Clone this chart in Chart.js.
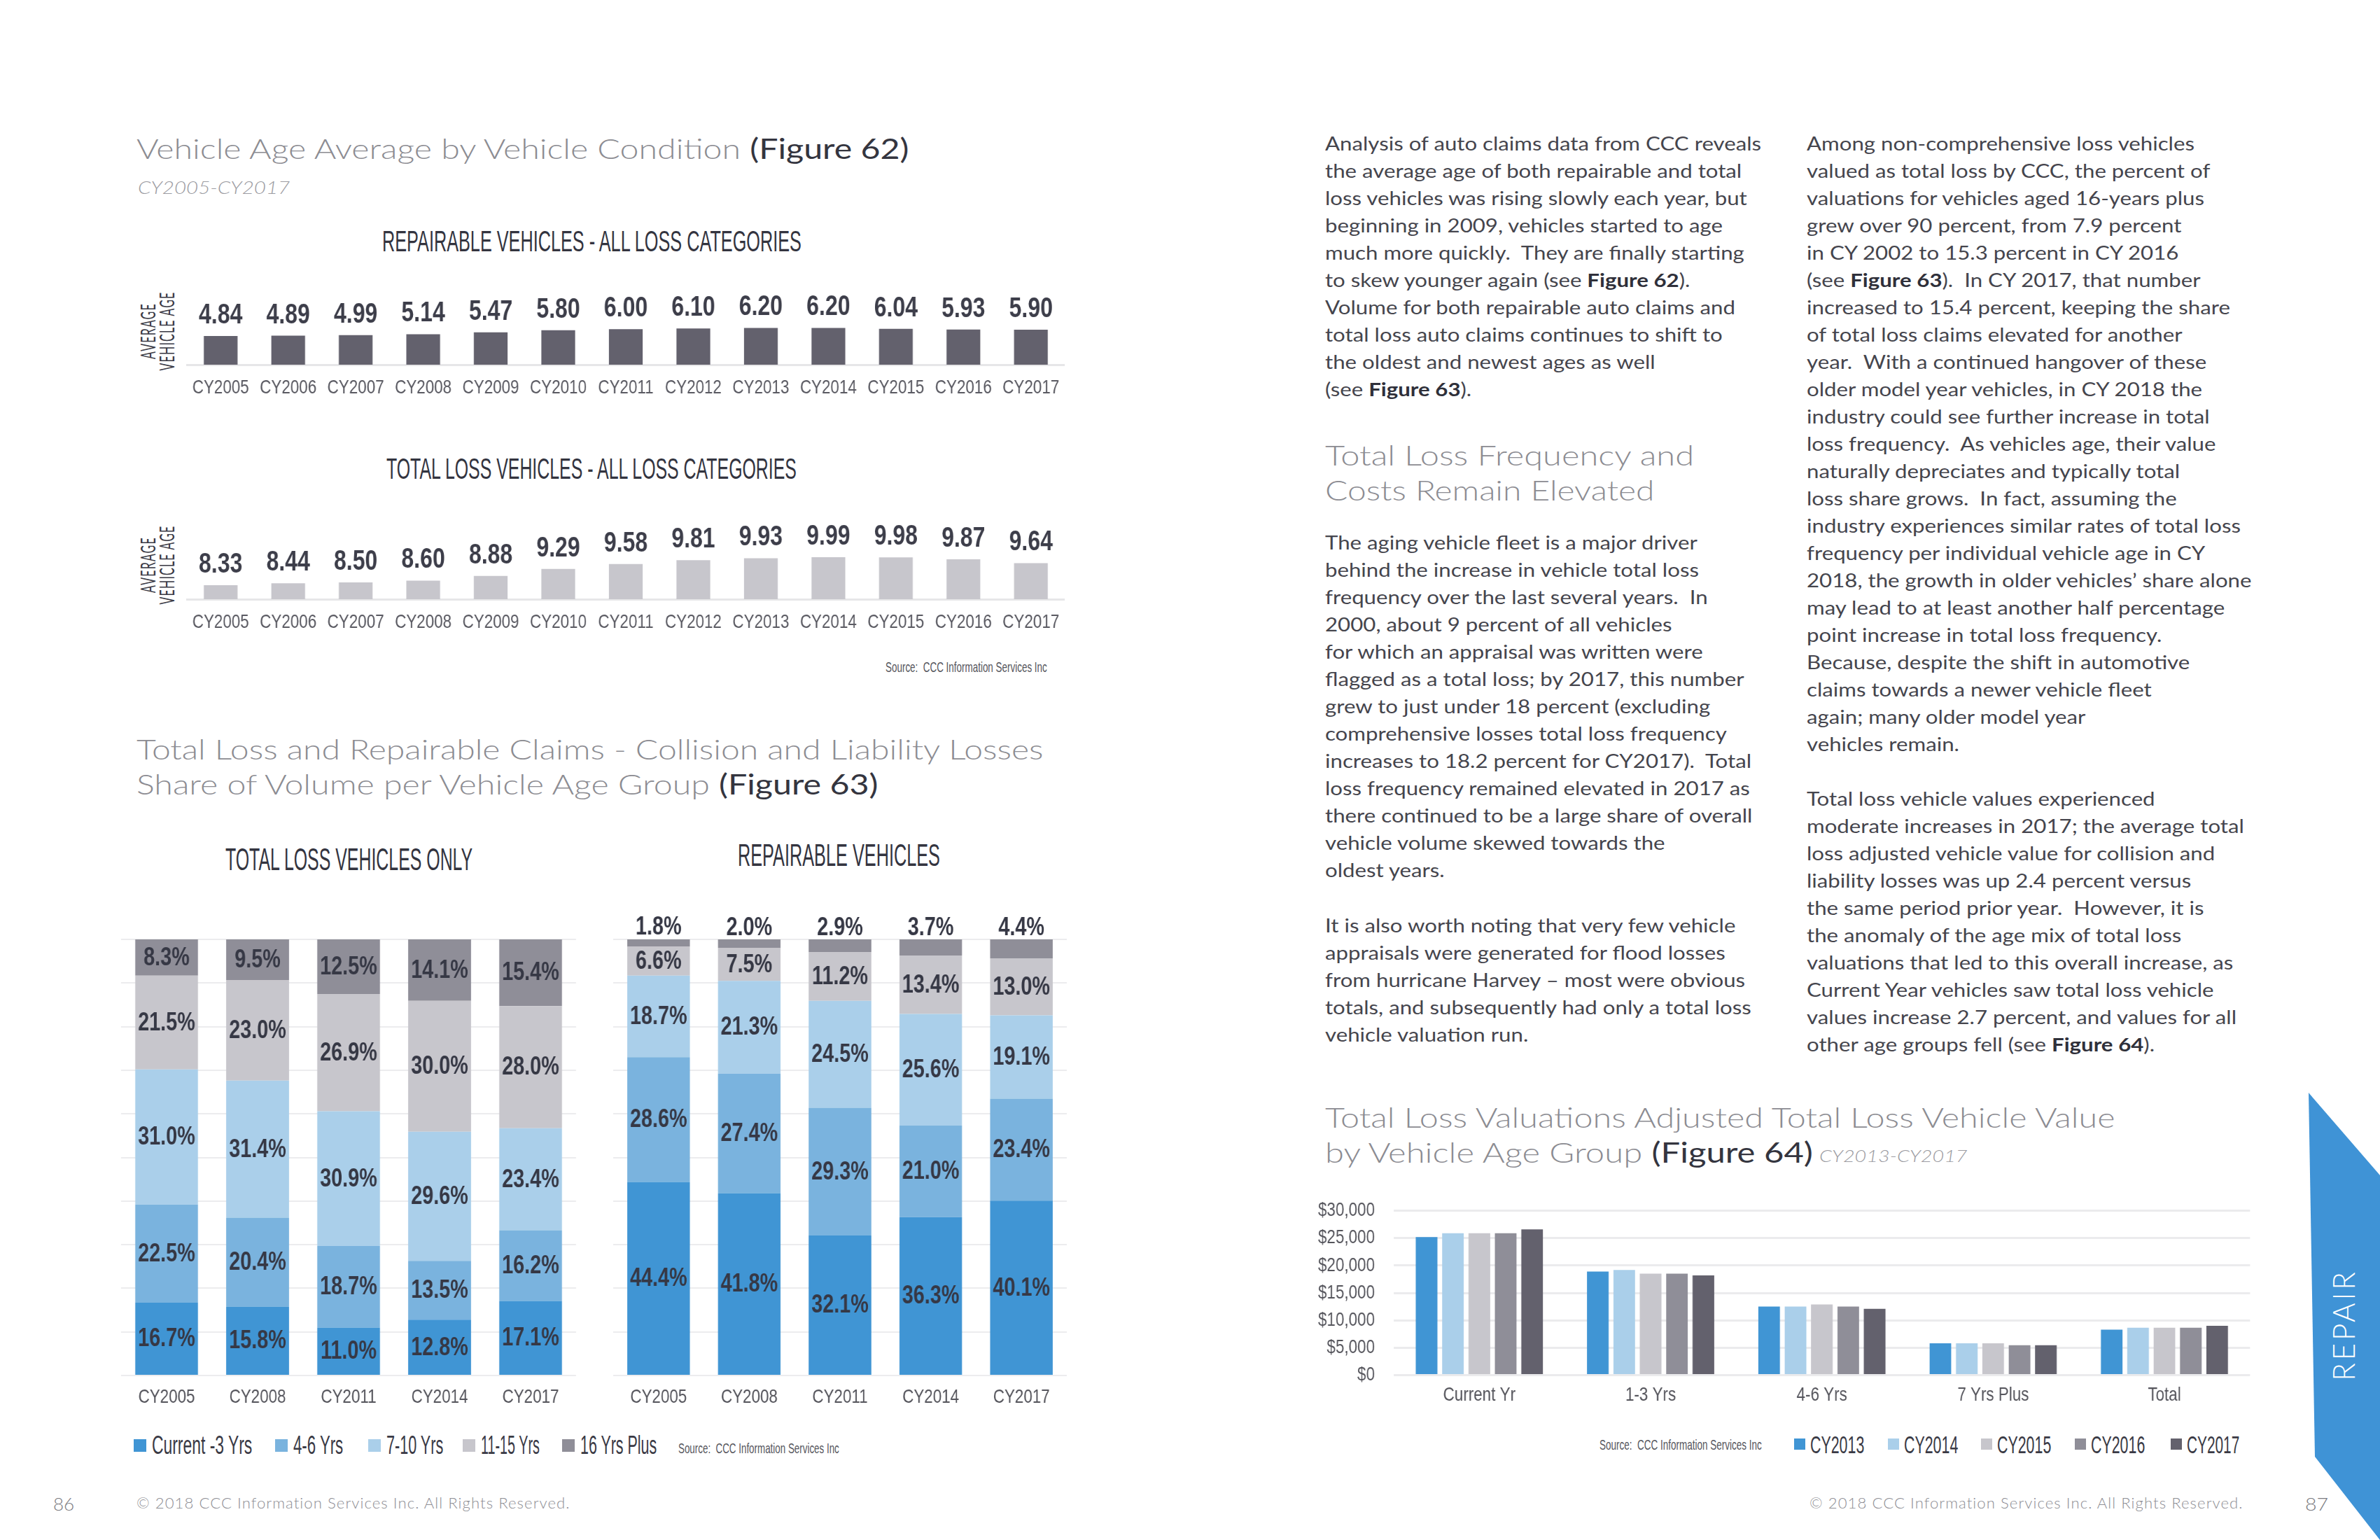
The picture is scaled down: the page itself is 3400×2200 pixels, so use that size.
<!DOCTYPE html>
<html lang="en">
<head>
<meta charset="UTF-8">
<title>Vehicle age and total loss figures 62-64</title>
<script src="https://cdn.jsdelivr.net/npm/chart.js@4.4.1/dist/chart.umd.min.js"></script>
<style>
  html, body { margin: 0; padding: 0; background: #fff; }
  body { position: relative; width: 3400px; height: 2200px; overflow: hidden; font-family: 'Lato', 'Noto Sans', sans-serif; }
  .t { position: absolute; white-space: nowrap; transform-origin: 0 0; }
  .head { font-size: 40px; line-height: 50px; font-weight: 300; color: #8c8c92; }
  .head b { font-weight: 400; color: #34353f; }
  .ital { font-style: italic; font-weight: 300; color: #9b9ba1; }
  .narrow { font-family: 'Liberation Sans Narrow', 'Arial Narrow', sans-serif; line-height: 1; }
  .ctitle { font-size: 42px; color: #33343f; }
  .src { font-size: 21px; color: #55555c; }
  .leg { font-size: 36px; color: #3a3a45; }
  .body { font-size: 26px; line-height: 39px; color: #45454d; }
  .body b { font-weight: 700; color: #2f303a; }
  .foot { font-size: 21px; line-height: 1; font-weight: 300; color: #8e8e94; letter-spacing: 1px; }
  .pg { font-size: 26px; line-height: 1; font-weight: 300; color: #7a7a80; }
  .rot { position: absolute; white-space: nowrap; transform-origin: 50% 50%; text-align: center; }
  .ylab { font-size: 28px; line-height: 27px; color: #3a3a45; letter-spacing: 2px; }
  canvas.cv { position: absolute; transform-origin: 0 0; transform: scaleX(0.8); }
  .sq { position: absolute; }
  #tab { position: absolute; left: 3298px; top: 1561px; width: 102px; height: 639px; background: #3f93d6;
         clip-path: polygon(0 0, 102px 118px, 102px 639px, 9px 520px); }
  #tabtxt { color: #fff; font-size: 44px; font-weight: 300; letter-spacing: 4px; line-height: 1; }
</style>
</head>
<body>

<!-- left page -->
<div class="t head" style="left:195px; top:187px" data-w="1103">Vehicle Age Average by Vehicle Condition <b>(Figure 62)</b></div>
<div class="t ital" style="left:197px; top:252px; font-size:26px; line-height:30px" data-w="217">CY2005-CY2017</div>

<div class="t narrow ctitle" style="left:546px; top:324px" data-w="599">REPAIRABLE VEHICLES - ALL LOSS CATEGORIES</div>
<div class="rot ylab" style="left:225px; top:473px" data-w="113" data-pre="translate(-50%,-50%) rotate(-90deg)">AVERAGE<br>VEHICLE AGE</div>
<canvas id="c62a" class="cv" width="1612" height="210" style="left:250px; top:380px"></canvas>

<div class="t narrow ctitle" style="left:552px; top:649px" data-w="586">TOTAL LOSS VEHICLES - ALL LOSS CATEGORIES</div>
<div class="rot ylab" style="left:225px; top:807px" data-w="113" data-pre="translate(-50%,-50%) rotate(-90deg)">AVERAGE<br>VEHICLE AGE</div>
<canvas id="c62b" class="cv" width="1612" height="225" style="left:250px; top:700px"></canvas>
<div class="t narrow src" style="left:1265px; top:942px" data-w="231">Source:&nbsp; CCC Information Services Inc</div>

<div class="t head" style="left:195px; top:1045px" data-w="1296">Total Loss and Repairable Claims - Collision and Liability Losses</div>
<div class="t head" style="left:195px; top:1095px" data-w="1059">Share of Volume per Vehicle Age Group <b>(Figure 63)</b></div>

<div class="t narrow ctitle" style="left:322px; top:1206px; font-size:44px" data-w="353">TOTAL LOSS VEHICLES ONLY</div>
<div class="t narrow ctitle" style="left:1054px; top:1200px; font-size:44px" data-w="289">REPAIRABLE VEHICLES</div>
<canvas id="c63a" class="cv" width="850" height="730" style="left:160px; top:1300px"></canvas>
<canvas id="c63b" class="cv" width="850" height="730" style="left:860px; top:1300px"></canvas>
<div id="leg63"></div>
<div class="t narrow src" style="left:969px; top:2058px" data-w="230">Source:&nbsp; CCC Information Services Inc</div>

<div class="t pg" style="left:76px; top:2135px" data-w="30">86</div>
<div class="t foot" style="left:195px; top:2136px" data-w="620">© 2018 CCC Information Services Inc. All Rights Reserved.</div>

<!-- right page -->
<div class="t body" id="p1" style="left:1893px; top:186px" data-w="623">Analysis of auto claims data from CCC reveals<br>the average age of both repairable and total<br>loss vehicles was rising slowly each year, but<br>beginning in 2009, vehicles started to age<br>much more quickly.&nbsp; They are finally starting<br>to skew younger again (see <b>Figure 62</b>).<br>Volume for both repairable auto claims and<br>total loss auto claims continues to shift to<br>the oldest and newest ages as well<br>(see <b>Figure 63</b>).</div>

<div class="t head" style="left:1893px; top:625px" data-w="527">Total Loss Frequency and</div>
<div class="t head" style="left:1893px; top:675px" data-w="470">Costs Remain Elevated</div>

<div class="t body bk" style="left:1893px; top:756px">The aging vehicle fleet is a major driver<br>behind the increase in vehicle total loss<br>frequency over the last several years.&nbsp; In<br>2000, about 9 percent of all vehicles<br>for which an appraisal was written were<br>flagged as a total loss; by 2017, this number<br>grew to just under 18 percent (excluding<br>comprehensive losses total loss frequency<br>increases to 18.2 percent for CY2017).&nbsp; Total<br>loss frequency remained elevated in 2017 as<br>there continued to be a large share of overall<br>vehicle volume skewed towards the<br>oldest years.</div>

<div class="t body bk" style="left:1893px; top:1303px">It is also worth noting that very few vehicle<br>appraisals were generated for flood losses<br>from hurricane Harvey – most were obvious<br>totals, and subsequently had only a total loss<br>vehicle valuation run.</div>

<div class="t body bk" style="left:2581px; top:186px">Among non-comprehensive loss vehicles<br>valued as total loss by CCC, the percent of<br>valuations for vehicles aged 16-years plus<br>grew over 90 percent, from 7.9 percent<br>in CY 2002 to 15.3 percent in CY 2016<br>(see <b>Figure 63</b>).&nbsp; In CY 2017, that number<br>increased to 15.4 percent, keeping the share<br>of total loss claims elevated for another<br>year.&nbsp; With a continued hangover of these<br>older model year vehicles, in CY 2018 the<br>industry could see further increase in total<br>loss frequency.&nbsp; As vehicles age, their value<br>naturally depreciates and typically total<br>loss share grows.&nbsp; In fact, assuming the<br>industry experiences similar rates of total loss<br>frequency per individual vehicle age in CY<br>2018, the growth in older vehicles’ share alone<br>may lead to at least another half percentage<br>point increase in total loss frequency.<br>Because, despite the shift in automotive<br>claims towards a newer vehicle fleet<br>again; many older model year<br>vehicles remain.</div>

<div class="t body bk" style="left:2581px; top:1122px">Total loss vehicle values experienced<br>moderate increases in 2017; the average total<br>loss adjusted vehicle value for collision and<br>liability losses was up 2.4 percent versus<br>the same period prior year.&nbsp; However, it is<br>the anomaly of the age mix of total loss<br>valuations that led to this overall increase, as<br>Current Year vehicles saw total loss vehicle<br>values increase 2.7 percent, and values for all<br>other age groups fell (see <b>Figure 64</b>).</div>

<div class="t head" style="left:1893px; top:1571px" data-w="1128">Total Loss Valuations Adjusted Total Loss Vehicle Value</div>
<div class="t head" style="left:1893px; top:1621px" data-w="697">by Vehicle Age Group <b>(Figure 64)</b></div>
<div class="t ital" style="left:2599px; top:1637px; font-size:24px; line-height:28px" data-w="211">CY2013-CY2017</div>

<canvas id="c64" class="cv" width="1688" height="347" style="left:1880px; top:1678.5px"></canvas>
<div class="t narrow src" style="left:2285px; top:2053px" data-w="232">Source:&nbsp; CCC Information Services Inc</div>
<div id="leg64"></div>

<div class="t foot" style="left:2585px; top:2136px" data-w="620">© 2018 CCC Information Services Inc. All Rights Reserved.</div>
<div class="t pg" style="left:3293px; top:2135px" data-w="33">87</div>

<div id="tab"></div>
<div class="rot" id="tabtxt" style="left:3347px; top:1893px" data-w="160" data-pre="translate(-50%,-50%) rotate(-90deg)">REPAIR</div>

<script>
// ---- Figure 62: average vehicle age ----
const ageYears = ['CY2005','CY2006','CY2007','CY2008','CY2009','CY2010','CY2011','CY2012','CY2013','CY2014','CY2015','CY2016','CY2017'];
const repairableAge = [4.84, 4.89, 4.99, 5.14, 5.47, 5.80, 6.00, 6.10, 6.20, 6.20, 6.04, 5.93, 5.90];
const totalLossAge = [8.33, 8.44, 8.50, 8.60, 8.88, 9.29, 9.58, 9.81, 9.93, 9.99, 9.98, 9.87, 9.64];

// ---- Figure 63: share of volume per age group (%) ----
const shareYears = ['CY2005','CY2008','CY2011','CY2014','CY2017'];
const ageGroups = ['Current -3 Yrs','4-6 Yrs','7-10 Yrs','11-15 Yrs','16 Yrs Plus'];
const tlCur3   = [16.7, 15.8, 11.0, 12.8, 17.1];
const tl4to6   = [22.5, 20.4, 18.7, 13.5, 16.2];
const tl7to10  = [31.0, 31.4, 30.9, 29.6, 23.4];
const tl11to15 = [21.5, 23.0, 26.9, 30.0, 28.0];
const tl16plus = [8.3, 9.5, 12.5, 14.1, 15.4];
const rpCur3   = [44.4, 41.8, 32.1, 36.3, 40.1];
const rp4to6   = [28.6, 27.4, 29.3, 21.0, 23.4];
const rp7to10  = [18.7, 21.3, 24.5, 25.6, 19.1];
const rp11to15 = [6.6, 7.5, 11.2, 13.4, 13.0];
const rp16plus = [1.8, 2.0, 2.9, 3.7, 4.4];

// ---- Figure 64: adjusted total loss vehicle value ($) ----
const valueGroups = ['Current Yr','1-3 Yrs','4-6 Yrs','7 Yrs Plus','Total'];
const valueYears = ['CY2013','CY2014','CY2015','CY2016','CY2017'];
const val2013 = [25200, 18900, 12500, 5800, 8300];
const val2014 = [25900, 19200, 12500, 5800, 8650];
const val2015 = [25900, 18500, 12900, 5800, 8650];
const val2016 = [25900, 18500, 12500, 5450, 8650];
const val2017 = [26600, 18200, 12100, 5450, 9000];
const valueMax = 30000, valueStep = 5000;

// colours
const darkBar = '#63616d', lightBar = '#c7c6cc';
const ageColors = ['#4095d4', '#7ab3de', '#aacfea', '#c7c6cc', '#8f8e98'];
const yearColors = ['#4095d4', '#aacfea', '#c7c6cc', '#8f8e98', '#63616d'];

const NARROW = "'Liberation Sans Narrow', 'Arial Narrow', sans-serif";
Chart.defaults.font.family = NARROW;
Chart.defaults.color = '#5a5a62';

// labels on bars
const barLabels = {
  id: 'barLabels',
  afterDatasetsDraw(chart, args, o) {
    const ctx = chart.ctx;
    ctx.save();
    ctx.font = o.font;
    ctx.fillStyle = o.color;
    ctx.textAlign = 'center';
    const last = chart.data.datasets.length - 1;
    chart.data.datasets.forEach((ds, di) => {
      chart.getDatasetMeta(di).data.forEach((bar, i) => {
        const v = ds.data[i];
        if (o.mode === 'top') {
          ctx.textBaseline = 'alphabetic';
          ctx.fillText(v.toFixed(2), bar.x, bar.y - o.gap);
        } else if (o.topAbove && di === last) {
          ctx.textBaseline = 'alphabetic';
          ctx.fillText(v.toFixed(1) + '%', bar.x, bar.y - o.gap);
        } else {
          ctx.textBaseline = 'middle';
          ctx.fillText(v.toFixed(1) + '%', bar.x, (bar.y + bar.base) / 2 + 1);
        }
      });
    });
    ctx.restore();
  }
};

function ageChart(id, values, color, yMin, yMax, pad) {
  new Chart(document.getElementById(id), {
    type: 'bar',
    data: { labels: ageYears, datasets: [{ data: values, backgroundColor: color, barPercentage: 0.5, categoryPercentage: 1 }] },
    options: {
      responsive: false, animation: false, devicePixelRatio: 1,
      layout: { padding: pad },
      scales: {
        x: { grid: { display: false, drawTicks: false }, border: { display: true, color: '#e6e6e8', width: 3 },
             ticks: { font: { size: 28 }, color: '#5a5a62', padding: 16, autoSkip: false, maxRotation: 0 } },
        y: { display: false, min: yMin, max: yMax }
      },
      plugins: {
        legend: { display: false }, tooltip: { enabled: false },
        barLabels: { mode: 'top', gap: 18, font: 'bold 40px ' + NARROW, color: '#3d3e4a' }
      }
    },
    plugins: [barLabels]
  });
}
ageChart('c62a', repairableAge, darkBar, 0, 10, { left: 21.25, right: 23.25, top: 56.3, bottom: 3.4 });
ageChart('c62b', totalLossAge, lightBar, 7.5, 11.5, { left: 21.25, right: 23.25, top: 59.6, bottom: 3.4 });

function shareChart(id, series, pad, topAbove) {
  new Chart(document.getElementById(id), {
    type: 'bar',
    data: {
      labels: shareYears,
      datasets: series.map((s, i) => ({ label: ageGroups[i], data: s, backgroundColor: ageColors[i], barPercentage: 0.69, categoryPercentage: 1 }))
    },
    options: {
      responsive: false, animation: false, devicePixelRatio: 1,
      layout: { padding: pad },
      scales: {
        x: { stacked: true, grid: { display: false, drawTicks: false }, border: { display: false },
             ticks: { font: { size: 28 }, color: '#55555c', padding: 14, maxRotation: 0 } },
        y: { stacked: true, min: 0, max: 100, ticks: { display: false, stepSize: 10 },
             grid: { color: '#ececee', lineWidth: 2, drawTicks: false }, border: { display: false } }
      },
      plugins: {
        legend: { display: false }, tooltip: { enabled: false },
        barLabels: { mode: 'stack', topAbove: topAbove, gap: 6, font: 'bold 36px ' + NARROW, color: '#363845' }
      }
    },
    plugins: [barLabels]
  });
}
shareChart('c63a', [tlCur3, tl4to6, tl7to10, tl11to15, tl16plus], { left: 16.25, right: 21.25, top: 42, bottom: 3.4 }, false);
shareChart('c63b', [rpCur3, rp4to6, rp7to10, rp11to15, rp16plus], { left: 20, right: 20, top: 42, bottom: 3.4 }, true);

// the y tick padding also pads the top of the area, so the canvas starts higher
new Chart(document.getElementById('c64'), {
  type: 'bar',
  data: {
    labels: valueGroups,
    datasets: [val2013, val2014, val2015, val2016, val2017].map((s, i) => ({
      label: valueYears[i], data: s, backgroundColor: yearColors[i], barPercentage: 0.82, categoryPercentage: 0.77 }))
  },
  options: {
    responsive: false, animation: false, devicePixelRatio: 1,
    layout: { padding: { left: 0, right: 20, top: 0, bottom: 3.9 } },
    scales: {
      x: { grid: { display: false, drawTicks: false }, border: { display: false },
           ticks: { font: { size: 28 }, color: '#55555c', padding: 12, maxRotation: 0 } },
      y: { min: 0, max: valueMax,
           ticks: { stepSize: valueStep, autoSkip: false, font: { size: 28 }, color: '#55555c', padding: 33.75,
                    callback: v => '$' + v.toLocaleString('en-US') },
           grid: { color: '#ebebed', lineWidth: 3, drawTicks: false }, border: { display: false },
           afterFit(scale) { scale.width = 138.75; } }
    },
    plugins: { legend: { display: false }, tooltip: { enabled: false } }
  }
});

// legends (layout positions only)
const leg63X = [191, 393, 526, 661, 803], leg63W = [143, 71, 81, 84, 109];
const leg64X = [2563, 2697, 2830, 2964, 3101], leg64W = [77, 77, 77, 77, 75];
function legend(host, names, colors, xs, ws, cy, sq, gap, fs) {
  const el = document.getElementById(host);
  names.forEach((n, i) => {
    const s = document.createElement('div');
    s.className = 'sq';
    s.style.cssText = `left:${xs[i]}px; top:${cy - sq / 2}px; width:${sq}px; height:${sq}px; background:${colors[i]}`;
    el.appendChild(s);
    const t = document.createElement('div');
    t.className = 't narrow leg';
    t.style.cssText = `left:${xs[i] + sq + gap}px; top:${cy - 0.4885 * fs}px; font-size:${fs}px`;
    t.dataset.w = ws[i];
    t.textContent = n;
    el.appendChild(t);
  });
}
legend('leg63', ageGroups, ageColors, leg63X, leg63W, 2065, 18, 8, 36);
legend('leg64', valueYears, yearColors, leg64X, leg64W, 2063, 16, 7, 35);

function fit() {
  document.querySelectorAll('[data-w]').forEach(el => {
    const k = +el.dataset.w / el.offsetWidth;
    el.style.transform = (el.dataset.pre || '') + ' scaleX(' + k + ')';
    if (el.id === 'p1') window.bodyK = k;
  });
  document.querySelectorAll('.bk').forEach(el => {
    el.style.transform = 'scaleX(' + window.bodyK + ')';
  });
}
document.fonts.ready.then(fit);
</script>
</body>
</html>
